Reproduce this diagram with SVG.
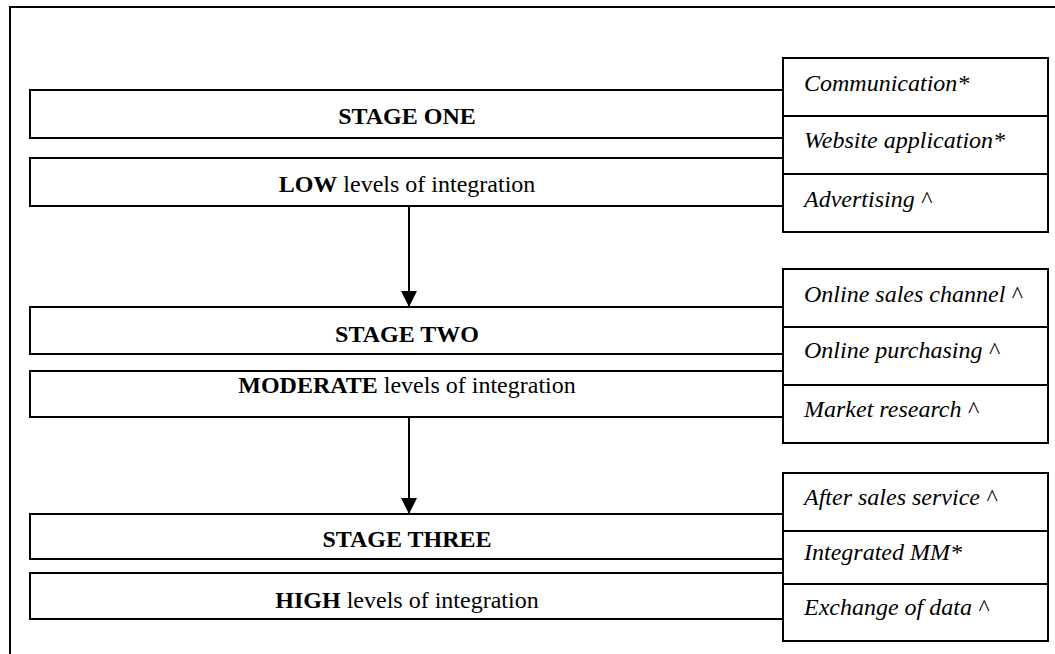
<svg xmlns="http://www.w3.org/2000/svg" width="1055" height="654" viewBox="0 0 1055 654">
  <style>
    .box { fill: #ffffff; stroke: #000000; stroke-width: 2; }
    .frame { fill: none; stroke: #000000; stroke-width: 2; }
    .stage { font-family: "Liberation Serif", "Times New Roman", serif; font-size: 24px; font-weight: bold; fill: #000000; text-anchor: middle; }
    .level { font-family: "Liberation Serif", "Times New Roman", serif; font-size: 24px; fill: #000000; text-anchor: middle; }
    .level tspan.b { font-weight: bold; }
    .item { font-family: "Liberation Serif", "Times New Roman", serif; font-size: 24px; font-style: italic; fill: #000000; }
    .link { stroke: #000000; stroke-width: 2; fill: none; }
  </style>
  <defs>
    <marker id="arrow" viewBox="0 0 16 16" refX="16" refY="8" markerWidth="16" markerHeight="16" markerUnits="userSpaceOnUse" orient="auto">
      <path d="M0,0 L16,8 L0,16 Z" fill="#000000"/>
    </marker>
  </defs>

  <rect width="1055" height="654" fill="#ffffff"/>

  <!-- outer frame, running off the right and bottom edges -->
  <rect class="frame" x="10" y="7" width="1070" height="670"/>

  <!-- stage one -->
  <g id="stage-one">
    <rect class="box" x="30" y="90" width="753" height="48"/>
    <text class="stage" x="407" y="124">STAGE ONE</text>
  </g>
  <g id="level-low">
    <rect class="box" x="30" y="158" width="753" height="48"/>
    <text class="level" x="407" y="192"><tspan class="b">LOW</tspan> levels of integration</text>
  </g>
  <g id="uses-one">
    <rect class="box" x="783" y="58" width="265" height="58"/>
    <rect class="box" x="783" y="116" width="265" height="58"/>
    <rect class="box" x="783" y="174" width="265" height="58"/>
    <text class="item" x="804" y="91">Communication*</text>
    <text class="item" x="804" y="148">Website application*</text>
    <text class="item" x="804" y="207">Advertising ^</text>
  </g>

  <!-- stage two -->
  <g id="stage-two">
    <rect class="box" x="30" y="307" width="753" height="47"/>
    <text class="stage" x="407" y="342">STAGE TWO</text>
  </g>
  <g id="level-moderate">
    <rect class="box" x="30" y="371" width="753" height="46"/>
    <text class="level" x="407" y="393"><tspan class="b">MODERATE</tspan> levels of integration</text>
  </g>
  <g id="uses-two">
    <rect class="box" x="783" y="269" width="265" height="58"/>
    <rect class="box" x="783" y="327" width="265" height="58"/>
    <rect class="box" x="783" y="385" width="265" height="58"/>
    <text class="item" x="804" y="302">Online sales channel ^</text>
    <text class="item" x="804" y="358">Online purchasing ^</text>
    <text class="item" x="804" y="417">Market research ^</text>
  </g>

  <!-- stage three -->
  <g id="stage-three">
    <rect class="box" x="30" y="514" width="753" height="45"/>
    <text class="stage" x="407" y="547">STAGE THREE</text>
  </g>
  <g id="level-high">
    <rect class="box" x="30" y="573" width="753" height="46"/>
    <text class="level" x="407" y="608"><tspan class="b">HIGH</tspan> levels of integration</text>
  </g>
  <g id="uses-three">
    <rect class="box" x="783" y="473" width="265" height="58"/>
    <rect class="box" x="783" y="531" width="265" height="53"/>
    <rect class="box" x="783" y="584" width="265" height="57"/>
    <text class="item" x="804" y="505">After sales service ^</text>
    <text class="item" x="804" y="560">Integrated MM*</text>
    <text class="item" x="804" y="615">Exchange of data ^</text>
  </g>

  <!-- flow between stages -->
  <g id="connectors">
    <line class="link" x1="409" y1="206" x2="409" y2="307" marker-end="url(#arrow)"/>
    <line class="link" x1="409" y1="417" x2="409" y2="514" marker-end="url(#arrow)"/>
  </g>
</svg>
